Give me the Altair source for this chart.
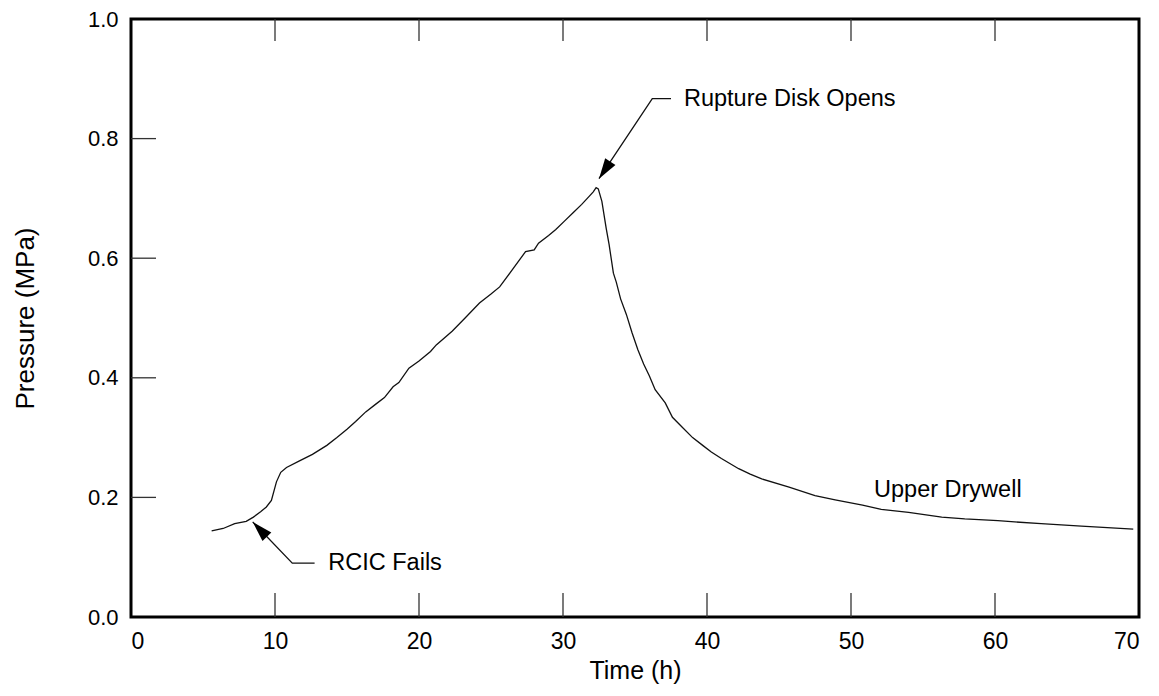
import altair as alt
import pandas as pd

# ---- curve data (Upper Drywell pressure) ----
time_h = [5.6, 6.4, 7.2, 8.0, 8.5, 9.0, 9.4, 9.75, 10.1, 10.4, 10.8, 11.7, 12.6, 13.6,
          14.3, 15.0, 15.6, 16.3, 17.0, 17.6, 18.2, 18.6, 19.3, 20.0, 20.8, 21.2, 22.3,
          23.2, 24.2, 25.0, 25.6, 26.7, 27.4, 28.0, 28.3, 29.0, 29.5, 30.1, 30.7, 31.3,
          31.8, 32.1, 32.3, 32.45, 32.7, 33.0, 33.2, 33.5, 33.7, 34.0, 34.4, 34.8, 35.2,
          35.6, 36.0, 36.4, 37.1, 37.6, 38.3, 39.0, 39.7, 40.3, 41.0, 42.2, 43.0, 43.8,
          45.7, 47.5, 48.9, 50.8, 52.1, 54.0, 56.3, 57.9, 60.2, 63.2, 66.0, 69.6]
pressure = [0.144, 0.148, 0.156, 0.160, 0.167, 0.176, 0.184, 0.195, 0.226, 0.242, 0.250,
            0.261, 0.272, 0.287, 0.300, 0.314, 0.327, 0.343, 0.356, 0.367, 0.385, 0.392,
            0.416, 0.428, 0.444, 0.455, 0.478, 0.500, 0.525, 0.540, 0.552, 0.588, 0.611,
            0.614, 0.625, 0.638, 0.648, 0.662, 0.676, 0.690, 0.703, 0.711, 0.718, 0.716,
            0.695, 0.650, 0.623, 0.575, 0.560, 0.532, 0.506, 0.475, 0.447, 0.423, 0.403,
            0.380, 0.358, 0.334, 0.317, 0.300, 0.287, 0.276, 0.265, 0.248, 0.239, 0.231,
            0.217, 0.203, 0.196, 0.187, 0.180, 0.175, 0.167, 0.164, 0.161, 0.156, 0.152,
            0.147]

x_ticks = [0, 10, 20, 30, 40, 50, 60, 70]
y_ticks = [0.0, 0.2, 0.4, 0.6, 0.8, 1.0]
x_inner_ticks = [10, 20, 30, 40, 50, 60]
y_inner_ticks = [0.2, 0.4, 0.6, 0.8]

# ---- annotations (data units) ----
ann_labels = ["Rupture Disk Opens", "RCIC Fails", "Upper Drywell"]
ann_text_t = [38.4, 13.7, 51.6]
ann_text_p = [0.867, 0.090, 0.212]

# leader paths: label end -> elbow -> arrow tip
leader_group = ["rupture", "rupture", "rupture", "rcic", "rcic", "rcic"]
leader_seq = [0, 1, 2, 0, 1, 2]
leader_t = [37.5, 36.2, 32.5, 12.75, 11.2, 8.45]
leader_p = [0.867, 0.867, 0.733, 0.090, 0.090, 0.159]

tip_t = [32.5, 8.45]
tip_p = [0.733, 0.159]
tip_angle = [213.5, 316.0]

FONT = "Liberation Sans"
W, H = 1008, 598
TICK = 24

curve = pd.DataFrame({"t": time_h, "p": pressure})
xs = alt.Scale(domain=[0, 70], nice=False, zero=False)
ys = alt.Scale(domain=[0, 1], nice=False, zero=False)

base_axes = alt.Chart(curve).mark_line(color="#111111", strokeWidth=1.3).encode(
    x=alt.X("t:Q", scale=xs,
            axis=alt.Axis(title="Time (h)", values=x_ticks, format="d", tickSize=0,
                          domain=False, grid=False, labelFontSize=23, labelFont=FONT,
                          labelColor="#000000", labelPadding=13, titleFontSize=25,
                          titleFont=FONT, titleFontWeight="normal", titleColor="#000000",
                          titlePadding=5)),
    y=alt.Y("p:Q", scale=ys,
            axis=alt.Axis(title="Pressure (MPa)", values=y_ticks, format=".1f", tickSize=0,
                          domain=False, grid=False, labelFontSize=22, labelFont=FONT,
                          labelColor="#000000", labelPadding=13, titleFontSize=26,
                          titleFont=FONT, titleFontWeight="normal", titleColor="#000000",
                          titlePadding=49)),
)

xt = pd.DataFrame({"t": x_inner_ticks})
yt = pd.DataFrame({"p": y_inner_ticks})
tick_style = dict(color="#333333", strokeWidth=1.3)

bottom_ticks = alt.Chart(xt).mark_rule(**tick_style).encode(
    x=alt.X("t:Q", scale=xs), y=alt.value(H), y2=alt.value(H - TICK))
top_ticks = alt.Chart(xt).mark_rule(**tick_style).encode(
    x=alt.X("t:Q", scale=xs), y=alt.value(0), y2=alt.value(TICK - 2))
left_ticks = alt.Chart(yt).mark_rule(**tick_style).encode(
    y=alt.Y("p:Q", scale=ys), x=alt.value(0), x2=alt.value(TICK + 1))

leaders = alt.Chart(pd.DataFrame({"g": leader_group, "s": leader_seq,
                                  "t": leader_t, "p": leader_p})).mark_line(
    color="#111111", strokeWidth=1.3).encode(
    x=alt.X("t:Q", scale=xs), y=alt.Y("p:Q", scale=ys), detail="g:N", order="s:Q")

heads = alt.Chart(pd.DataFrame({"t": tip_t, "p": tip_p, "a": tip_angle})).mark_point(
    shape="M0,0L-0.6,2L0.6,2Z", filled=True, color="#000000", opacity=1,
    size=420, strokeWidth=0).encode(
    x=alt.X("t:Q", scale=xs), y=alt.Y("p:Q", scale=ys),
    angle=alt.Angle("a:Q", scale=None))

labels = alt.Chart(pd.DataFrame({"label": ann_labels, "t": ann_text_t,
                                 "p": ann_text_p})).mark_text(
    align="left", baseline="middle", font=FONT, fontSize=23.5, color="#000000").encode(
    x=alt.X("t:Q", scale=xs), y=alt.Y("p:Q", scale=ys), text="label:N")

chart = alt.layer(base_axes, bottom_ticks, top_ticks, left_ticks, leaders, heads, labels).properties(
    width=W, height=H,
    autosize=alt.AutoSizeParams(type="none"),
    padding={"left": 123, "top": 11, "right": 10, "bottom": 70},
    background="#ffffff",
).configure_view(stroke="#000000", strokeWidth=3)

chart.save("out.html", embed_options={"renderer": "svg", "actions": False})
